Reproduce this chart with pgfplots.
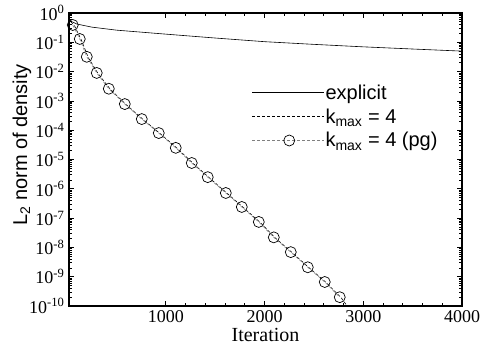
\documentclass[border=0pt]{standalone}
\usepackage{pgfplots}
\pgfplotsset{compat=1.18}
\usepackage{fontspec}
\setmainfont{Liberation Serif}
\setsansfont{Liberation Sans}
\begin{document}
\begin{tikzpicture}
\begin{axis}[
  name=ax,
  scale only axis,
  width=393pt, height=293pt,
  ymode=log,
  xmin=20, xmax=4000,
  ymin=1e-10, ymax=1,
  xtick={1000,2000,3000,4000},
  minor x tick num=4,
  ytick={1e-10,1e-9,1e-8,1e-7,1e-6,1e-5,1e-4,1e-3,1e-2,1e-1,1},
  yticklabels={10\textsuperscript{-10},10\textsuperscript{-9},10\textsuperscript{-8},10\textsuperscript{-7},10\textsuperscript{-6},10\textsuperscript{-5},10\textsuperscript{-4},10\textsuperscript{-3},10\textsuperscript{-2},10\textsuperscript{-1},10\textsuperscript{0}},
  /pgf/number format/assume math mode=true,
  /pgf/number format/1000 sep={},
  tick align=inside,
  major tick length=5pt,
  minor tick length=3pt,
  axis line style={line width=1.1pt},
  every tick/.style={black, line width=0.7pt},
  tick label style={font=\fontsize{18}{18}\selectfont},
  xticklabel style={yshift=-1pt},
  yticklabel style={xshift=-1pt},
  xlabel={Iteration},
  ylabel={\sffamily L\textsubscript{2} norm of density},
  every axis x label/.style={at={(axis description cs:0.5,-0.1)},anchor=center,font=\fontsize{20}{20}\selectfont},
  every axis y label/.style={at={(axis description cs:-0.12,0.55)},rotate=90,anchor=center,font=\fontsize{20}{20}\selectfont},
  legend style={at={(0.465,0.76)},anchor=north west,draw=none,fill=none,
    font=\sffamily\fontsize{20}{20}\selectfont, row sep=6pt, inner sep=0pt,
    nodes={inner sep=1pt}},
  legend cell align=left,
  legend image code/.code={\draw[mark repeat=2,mark phase=2,#1] plot coordinates {(0pt,0pt) (37pt,0pt) (72pt,0pt)};},
]
\addplot[black, line width=0.6pt] coordinates {
(20,0.56) (100,0.42) (250,0.33) (500,0.26) (1000,0.19) (1500,0.14) (2000,0.105) (2500,0.085) (3000,0.07) (3500,0.059) (4000,0.05)};
\addlegendentry{explicit}
\addplot[black, line width=0.6pt, dash pattern=on 3pt off 2pt] coordinates {
(40,0.5) (75,0.37) (145,0.12) (215,0.03) (315,0.0085) (438,0.0025) (600,7.4e-4) (772,2.3e-4) (944,7.6e-5) (1116,2.4e-5) (1278,7.3e-6) (1440,2.4e-6) (1623,6.9e-7) (1785,2.3e-7) (1957,7.1e-8) (2109,2.1e-8) (2281,6.6e-9) (2453,2.0e-9) (2625,6.3e-10) (2777,1.9e-10) (2820,1.2e-10) (2860,8e-11)};
\addlegendentry{k\textsubscript{max} = 4}
\addplot[gray, line width=0.6pt, dash pattern=on 3pt off 2pt, mark=o, mark size=5.5pt, mark options={solid, black, fill=white, line width=0.7pt}] coordinates {
(58,0.39) (129,0.13) (200,0.032) (301,0.009) (423,0.0026) (585,7.8e-4) (757,2.4e-4) (929,8e-5) (1101,2.5e-5) (1263,7.6e-6) (1425,2.5e-6) (1608,7.2e-7) (1770,2.4e-7) (1942,7.4e-8) (2094,2.2e-8) (2266,6.9e-9) (2438,2.1e-9) (2610,6.6e-10) (2762,2.0e-10)};
\addlegendentry{k\textsubscript{max} = 4 (pg)}
\end{axis}
\pgfresetboundingbox
\path ([xshift=-69pt,yshift=-42pt]ax.south west) rectangle ([xshift=32pt,yshift=13pt]ax.north east);
\end{tikzpicture}
\end{document}
